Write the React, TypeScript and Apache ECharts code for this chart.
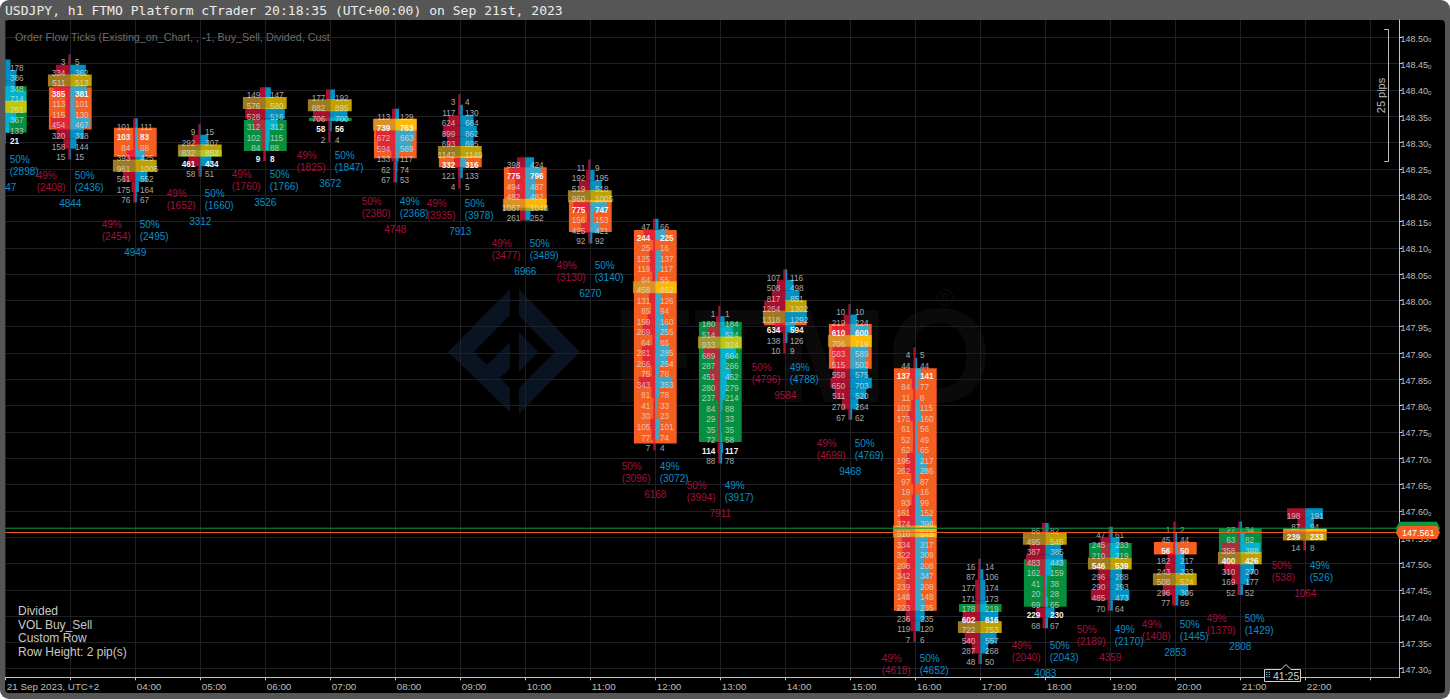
import React, { useEffect, useRef } from "react";
import * as echarts from "echarts";

// ---------- time axis ----------
const categories = ["21 Sep 2023, UTC+2", "", "04:00", "05:00", "06:00", "07:00", "08:00", "09:00", "10:00", "11:00", "12:00", "13:00", "14:00", "15:00", "16:00", "17:00", "18:00", "19:00", "20:00", "21:00", "22:00"];

// ---------- footprint rows: sell volume | buy volume, top row first ----------
const sell00 = [null, null, null, null, null, null, null, null];
const buy00 = [178, 386, 348, 714, 751, 367, 133, 21];
const sell01 = [3, 334, 511, 385, 113, 115, 454, 320, 158, 15];
const buy01 = [5, 362, 513, 381, 101, 130, 467, 318, 144, 15];
const sell02 = [101, 103, 84, 393, 961, 561, 175, 76];
const buy02 = [111, 83, 88, 425, 1005, 552, 164, 67];
const sell03 = [9, 292, 832, 461, 58];
const buy03 = [15, 307, 853, 434, 51];
const sell04 = [149, 576, 528, 312, 102, 84, 9];
const buy04 = [147, 580, 516, 312, 115, 88, 8];
const sell05 = [177, 882, 706, 58, 2];
const buy05 = [192, 895, 700, 56, 4];
const sell06 = [113, 739, 672, 594, 133, 62, 67];
const buy06 = [129, 763, 663, 569, 117, 74, 53];
const sell07 = [3, 117, 624, 899, 693, 1142, 332, 121, 4];
const buy07 = [4, 130, 684, 862, 695, 1149, 316, 133, 5];
const sell08 = [398, 775, 494, 482, 1067, 261];
const buy08 = [424, 796, 487, 482, 1048, 252];
const sell09 = [11, 192, 519, 960, 775, 156, 425, 92];
const buy09 = [9, 195, 518, 1005, 747, 153, 421, 92];
const sell10 = [47, 244, 25, 125, 119, 64, 458, 131, 85, 159, 269, 64, 281, 266, 75, 343, 81, 41, 30, 105, 77, 7];
const buy10 = [66, 225, 16, 137, 117, 55, 452, 126, 94, 160, 255, 86, 285, 254, 78, 353, 78, 33, 23, 101, 74, 4];
const sell11 = [1, 180, 514, 933, 689, 287, 451, 280, 237, 84, 29, 35, 72, 114, 88];
const buy11 = [1, 184, 524, 924, 664, 266, 452, 279, 214, 88, 33, 35, 58, 117, 78];
const sell12 = [107, 508, 817, 1264, 1318, 634, 138, 10];
const buy12 = [116, 498, 851, 1302, 1292, 594, 126, 9];
const sell13 = [10, 219, 610, 706, 583, 515, 558, 650, 511, 270, 67];
const buy13 = [10, 224, 600, 719, 589, 503, 575, 703, 520, 264, 62];
const sell14 = [4, 44, 137, 84, 11, 101, 173, 61, 52, 62, 195, 262, 97, 19, 93, 161, 374, 510, 334, 322, 208, 342, 239, 148, 223, 236, 119, 7];
const buy14 = [5, 44, 141, 77, 8, 115, 160, 56, 49, 65, 217, 286, 87, 16, 99, 152, 398, 548, 317, 309, 208, 347, 208, 148, 235, 235, 120, 6];
const sell15 = [16, 87, 177, 171, 178, 602, 722, 540, 287, 48];
const buy15 = [14, 106, 174, 173, 219, 616, 753, 557, 268, 50];
const sell16 = [86, 495, 387, 483, 162, 41, 20, 69, 229, 68];
const buy16 = [82, 546, 385, 443, 159, 38, 28, 65, 230, 67];
const sell17 = [47, 245, 210, 546, 296, 290, 485, 70];
const buy17 = [61, 233, 219, 539, 288, 293, 473, 64];
const sell18 = [1, 45, 56, 182, 243, 508, 296, 77];
const buy18 = [2, 44, 50, 217, 233, 524, 306, 69];
const sell19 = [27, 63, 358, 400, 310, 169, 52];
const buy19 = [34, 82, 388, 426, 270, 177, 52];
const sell20 = [198, 87, 239, 14];
const buy20 = [191, 94, 233, 8];

const sellRows = [sell00, sell01, sell02, sell03, sell04, sell05, sell06, sell07, sell08, sell09, sell10, sell11, sell12, sell13, sell14, sell15, sell16, sell17, sell18, sell19, sell20];
const buyRows = [buy00, buy01, buy02, buy03, buy04, buy05, buy06, buy07, buy08, buy09, buy10, buy11, buy12, buy13, buy14, buy15, buy16, buy17, buy18, buy19, buy20];

// ---------- candle prices ----------
const rowTopPrice = [148.458, 148.468, 148.346, 148.335, 148.405, 148.401, 148.364, 148.392, 148.272, 148.268, 148.155, 147.99, 148.059, 147.993, 147.911, 147.509, 147.577, 147.57, 147.58, 147.58, 147.605];
const bodyHigh = [148.407, 148.405, 148.328, 148.286, 148.343, 148.347, 148.345, 148.274, 148.253, 148.191, 148.134, 147.959, 147.959, 147.955, 147.871, 147.423, 147.508, 147.539, 147.541, 147.567, 147.566];
const bodyLow = [148.319, 148.325, 148.273, 148.273, 148.284, 148.341, 148.27, 148.253, 148.176, 148.13, 147.728, 147.731, 147.953, 147.87, 147.41, 147.408, 147.418, 147.512, 147.517, 147.519, 147.561];
const bullish = [true, false, false, true, true, true, false, false, false, false, false, true, false, false, false, true, true, true, false, true, false];
const closeRow = [7, 3, 1, 3, 6, 3, 1, 6, 1, 4, 1, 13, 5, 2, 2, 5, 8, 3, 2, 3, 2];

// ---------- bar summaries ----------
const sellPercent = [49, 49, 49, 49, 49, 49, 50, 49, 49, 49, 50, 50, 50, 49, 49, 49, 49, 50, 49, 49, 50];
const buyPercent = [50, 50, 50, 50, 50, 50, 49, 50, 50, 50, 49, 49, 49, 50, 50, 50, 50, 49, 50, 50, 49];
const sellTotals = [2849, 2408, 2454, 1652, 1760, 1825, 2380, 3935, 3477, 3130, 3096, 3994, 4796, 4699, 4618, 2828, 2040, 2189, 1408, 1379, 538];
const buyTotals = [2898, 2436, 2495, 1660, 1766, 1847, 2368, 3978, 3489, 3140, 3072, 3917, 4788, 4769, 4652, 2930, 2043, 2170, 1445, 1429, 526];
const barTotals = [5747, 4844, 4949, 3312, 3526, 3672, 4748, 7913, 6966, 6270, 6168, 7911, 9584, 9468, 9270, 5758, 4083, 4359, 2853, 2808, 1064];
const summaryPrice = [148.267, 148.237, 148.145, 148.203, 148.24, 148.275, 148.188, 148.184, 148.108, 148.066, 147.684, 147.648, 147.873, 147.728, 147.32, 147.269, 147.344, 147.375, 147.384, 147.396, 147.496];

// ---------- live prices ----------
const askLine = 147.567;
const bidLine = 147.559;
const askLabel = "147.569";
const bidLabel = "147.561";

// ---------- axis ----------
const priceTicks = [147.3, 147.35, 147.4, 147.45, 147.5, 147.55, 147.6, 147.65, 147.7, 147.75, 147.8, 147.85, 147.9, 147.95, 148.0, 148.05, 148.1, 148.15, 148.2, 148.25, 148.3, 148.35, 148.4, 148.45, 148.5];
const timeTicks = [0, 1, 2, 3, 4, 5, 6, 7, 8, 9, 10, 11, 12, 13, 14, 15, 16, 17, 18, 19, 20, 21];

const ROW_PIPS = 0.02;
const SANS = '"Liberation Sans", Arial, sans-serif';
const RED = "rgba(220,20,60,0.76)";
const BLUE = "rgba(0,191,255,0.76)";
const RED_TEXT = "#a5103a";
const BLUE_TEXT = "#0a8fc6";
const ORANGE = "#f55f22";
const GREEN = "#068f3e";
const POC_LEFT = "rgba(208,160,42,0.76)";
const POC_RIGHT = "rgba(255,215,0,0.75)";

function maxOf(a: (number | null)[]) {
  return a.reduce((m: number, v) => (v !== null && (v as number) > m ? (v as number) : m), 0);
}

function renderFootprint(_params: any, api: any) {
  const k = api.value(0);
  const [cx, top] = api.coord([k, rowTopPrice[k]]);
  const rowH = api.size([0, ROW_PIPS])[1];
  const sell = sellRows[k];
  const buy = buyRows[k];
  const maxSell = maxOf(sell);
  const maxBuy = maxOf(buy);
  const scale = Math.max(maxSell, maxBuy) || 1;
  const children: any[] = [];
  const yHigh = api.coord([k, bodyHigh[k]])[1];
  const yLow = api.coord([k, bodyLow[k]])[1];
  children.push({ type: "rect", shape: { x: cx - 21.4, y: yHigh, width: 42.8, height: yLow - yHigh }, style: { fill: bullish[k] ? GREEN : ORANGE } });
  sell.forEach((s: number | null, i: number) => {
    const y = top + i * rowH;
    const b = buy[i];
    if (s !== null && s !== maxSell) {
      const w = Math.max(2, (s / scale) * 22);
      children.push({ type: "rect", shape: { x: cx - w, y, width: w, height: rowH }, style: { fill: RED } });
    }
    if (b !== maxBuy) {
      const w = (b / scale) * 22;
      children.push({ type: "rect", shape: { x: cx, y, width: w, height: rowH }, style: { fill: BLUE } });
    }
  });
  sell.forEach((s: number | null, i: number) => {
    const y = top + i * rowH;
    if (s !== null && s === maxSell) {
      children.push({ type: "rect", shape: { x: cx - 22.4, y: y - 0.7, width: 22.4, height: rowH + 1.4 }, style: { fill: POC_LEFT } });
    }
    if (buy[i] === maxBuy) {
      children.push({ type: "rect", shape: { x: cx, y: y - 0.7, width: 21.4, height: rowH + 1.4 }, style: { fill: POC_RIGHT } });
    }
  });
  sell.forEach((s: number | null, i: number) => {
    const y = top + i * rowH + 8.7;
    const strong = closeRow[k] === i;
    const font = `${strong ? "bold " : ""}8.2px ${SANS}`;
    const fill = strong ? "#f4f4f4" : "rgba(232,232,232,0.72)";
    if (s !== null) {
      children.push({ type: "text", style: { text: String(s), x: cx - 5, y, align: "right", verticalAlign: "middle", font, fill } });
    }
    children.push({ type: "text", style: { text: String(buy[i]), x: cx + 4.7, y, align: "left", verticalAlign: "middle", font, fill } });
  });
  return { type: "group", children };
}

function renderSummary(_params: any, api: any) {
  const k = api.value(0);
  const [cx, y] = api.coord([k, summaryPrice[k]]);
  const font = `10px ${SANS}`;
  const left = cx - 33.6;
  const right = cx + 4.4;
  const t = (text: string, x: number, yy: number, fill: string, align = "left") => ({
    type: "text",
    style: { text, x, y: yy, fill, font, align, verticalAlign: "middle" },
  });
  return {
    type: "group",
    children: [
      t(`${sellPercent[k]}%`, left, y, RED_TEXT),
      t(`(${sellTotals[k]})`, left, y + 12, RED_TEXT),
      t(`${buyPercent[k]}%`, right, y, BLUE_TEXT),
      t(`(${buyTotals[k]})`, right, y + 12, BLUE_TEXT),
      t(String(barTotals[k]), cx, y + 28, buyTotals[k] > sellTotals[k] ? BLUE_TEXT : RED_TEXT, "center"),
    ],
  };
}

function renderPriceLine(params: any, api: any) {
  const price = api.value(0);
  const isAsk = params.dataIndex === 0;
  const color = isAsk ? "#0a9a44" : "#f55f22";
  const y = api.coord([0, price])[1];
  const x0 = params.coordSys.x;
  const x1 = x0 + params.coordSys.width;
  return {
    type: "group",
    children: [
      { type: "line", shape: { x1: x0, y1: y, x2: x1, y2: y }, style: { stroke: color, lineWidth: 1 } },
      {
        type: "polygon",
        shape: { points: [[x1 - 4, y], [x1, y - 6.5], [x1 + 37.5, y - 6.5], [x1 + 40.5, y], [x1 + 37.5, y + 6.5], [x1, y + 6.5]] },
        style: { fill: color },
      },
      {
        type: "text",
        style: { text: isAsk ? askLabel : bidLabel, x: x1 + 2.5, y: y + 0.5, fill: "#fff", font: `9px ${SANS}`, align: "left", verticalAlign: "middle" },
      },
    ],
  };
}

const WM = "#091322";

function chromeGraphics() {
  const behind = -20;
  return [
    { type: "rect", z: behind, silent: true, shape: { x: 0, y: 0, width: 1450, height: 699, r: 9 }, style: { fill: "#565656" } },
    { type: "rect", z: behind + 1, silent: true, shape: { x: 5, y: 20, width: 1440, height: 673, r: 4 }, style: { fill: "#000" } },
    // watermark
    { type: "polygon", z: behind + 2, silent: true, shape: { points: [[448, 352], [510, 289], [510, 315], [474, 352], [487, 365], [510, 342], [510, 368], [500, 378], [510, 388], [510, 412], [448, 352]] }, style: { fill: WM } },
    { type: "polygon", z: behind + 2, silent: true, shape: { points: [[519, 289], [580, 352], [519, 414], [519, 388], [555, 352], [519, 316]] }, style: { fill: WM } },
    { type: "polygon", z: behind + 2, silent: true, shape: { points: [[519, 332], [538, 352], [519, 372]] }, style: { fill: WM } },
    { type: "text", z: behind + 2, silent: true, x: 612, y: 355, style: { text: "FTMO", font: `bold 134px ${SANS}`, fill: "#0a0a0b", align: "left", verticalAlign: "middle" } },
    { type: "text", z: behind + 2, silent: true, x: 945, y: 297, style: { text: "®", font: `24px ${SANS}`, fill: "#0b0b0c", align: "center", verticalAlign: "middle" } },
    // header
    { type: "text", z: 30, silent: true, x: 5, y: 10, style: { text: "USDJPY, h1 FTMO Platform cTrader 20:18:35 (UTC+00:00) on Sep 21st, 2023", font: '13.05px "DejaVu Sans Mono", monospace', fill: "#ececec", align: "left", verticalAlign: "middle" } },
    { type: "text", z: 30, silent: true, x: 15, y: 37, style: { text: "Order Flow Ticks (Existing_on_Chart, , -1, Buy_Sell, Divided, Cust", font: `10.76px ${SANS}`, fill: "#6e6e6e", align: "left", verticalAlign: "middle" } },
    // info block
    { type: "text", z: 30, silent: true, x: 18, y: 611, style: { text: "Divided", font: `12px ${SANS}`, fill: "#c8c8c8", align: "left", verticalAlign: "middle" } },
    { type: "text", z: 30, silent: true, x: 18, y: 625, style: { text: "VOL Buy_Sell", font: `12px ${SANS}`, fill: "#c8c8c8", align: "left", verticalAlign: "middle" } },
    { type: "text", z: 30, silent: true, x: 18, y: 638, style: { text: "Custom Row", font: `12px ${SANS}`, fill: "#c8c8c8", align: "left", verticalAlign: "middle" } },
    { type: "text", z: 30, silent: true, x: 18, y: 652, style: { text: "Row Height: 2 pip(s)", font: `12px ${SANS}`, fill: "#c8c8c8", align: "left", verticalAlign: "middle" } },
    // 25 pips ruler
    { type: "polyline", z: 30, silent: true, shape: { points: [[1384.3, 29.5], [1388.5, 29.5], [1388.5, 161.5], [1384.3, 161.5]] }, style: { stroke: "#bdbdbd", lineWidth: 1, fill: "none" } },
    { type: "text", z: 30, silent: true, x: 1381, y: 95.5, rotation: Math.PI / 2, style: { text: "25 pips", font: `11px ${SANS}`, fill: "#bdbdbd", align: "center", verticalAlign: "middle" } },
    // countdown
    { type: "polygon", z: 31, silent: true, shape: { points: [[1264.5, 669.5], [1281, 669.5], [1286, 664.5], [1291, 669.5], [1300.5, 669.5], [1300.5, 681.5], [1264.5, 681.5]] }, style: { fill: "#000", stroke: "#d0d0d0", lineWidth: 1 } },
    { type: "text", z: 32, silent: true, x: 1268, y: 675.5, style: { text: "⠿", font: `8px "DejaVu Sans", ${SANS}`, fill: "#bbb", align: "center", verticalAlign: "middle" } },
    { type: "text", z: 32, silent: true, x: 1273, y: 675.8, style: { text: "41:25", font: `10.5px ${SANS}`, fill: "#cfcfcf", align: "left", verticalAlign: "middle" } },
  ];
}

export default function App() {
  const ref = useRef<HTMLDivElement>(null);
  useEffect(() => {
    document.body.style.margin = "0";
    document.body.style.background = "#fff";
    const chart = echarts.init(ref.current!, undefined, { renderer: "svg", width: 1450, height: 699 });
    chart.setOption({
      animation: false,
      backgroundColor: "transparent",
      tooltip: { show: false },
      graphic: { elements: chromeGraphics() },
      grid: { left: 5.3, top: 20, width: 1394.2, height: 657.3, containLabel: false },
      xAxis: {
        type: "value",
        min: 0,
        max: 21.449,
        axisLine: { show: true, onZero: false, lineStyle: { color: "#c4c4c4", width: 1 } },
        axisTick: { show: true, length: 3, lineStyle: { color: "#c4c4c4" }, customValues: timeTicks },
        axisLabel: {
          show: true,
          customValues: timeTicks,
          formatter: (v: number) => categories[Math.round(v)] ?? "",
          color: "#bdbdbd",
          fontFamily: SANS,
          fontSize: 9.8,
          align: "left",
          margin: 4,
          padding: [0, 0, 0, 1.5],
          hideOverlap: false,
        },
        splitLine: { show: true, lineStyle: { color: "#1f1f25", width: 1 } },
      },
      yAxis: {
        type: "value",
        position: "right",
        min: 147.2837,
        max: 148.5329,
        axisLine: { show: true, onZero: false, lineStyle: { color: "#c4c4c4", width: 1 } },
        axisTick: { show: true, length: 3, lineStyle: { color: "#c4c4c4" }, customValues: priceTicks },
        axisLabel: {
          show: true,
          customValues: priceTicks,
          margin: 1,
          formatter: (v: number) => `{m|${v.toFixed(2)}}{s|0}`,
          rich: {
            m: { color: "#bdbdbd", fontFamily: SANS, fontSize: 9, padding: [3, 0, 0, 0] },
            s: { color: "#bdbdbd", fontFamily: SANS, fontSize: 6, padding: [6, 0, 0, 0] },
          },
          hideOverlap: false,
        },
        splitLine: { show: true, lineStyle: { color: "#1f1f25", width: 1 } },
      },
      series: [
        {
          type: "custom",
          name: "footprint",
          clip: true,
          z: 3,
          silent: true,
          renderItem: renderFootprint,
          encode: { x: 0, y: 1 },
          data: categories.map((_, i) => [i, rowTopPrice[i]]),
        },
        {
          type: "custom",
          name: "summary",
          clip: true,
          z: 4,
          silent: true,
          renderItem: renderSummary,
          encode: { x: 0, y: 1 },
          data: categories.map((_, i) => [i, summaryPrice[i]]),
        },
        {
          type: "custom",
          name: "prices",
          clip: false,
          z: 5,
          silent: true,
          renderItem: renderPriceLine,
          encode: { y: 0 },
          data: [[askLine], [bidLine]],
        },
      ],
    });
    return () => chart.dispose();
  }, []);
  return <div ref={ref} style={{ position: "absolute", left: 0, top: 0, width: 1450, height: 699, overflow: "hidden" }} />;
}
